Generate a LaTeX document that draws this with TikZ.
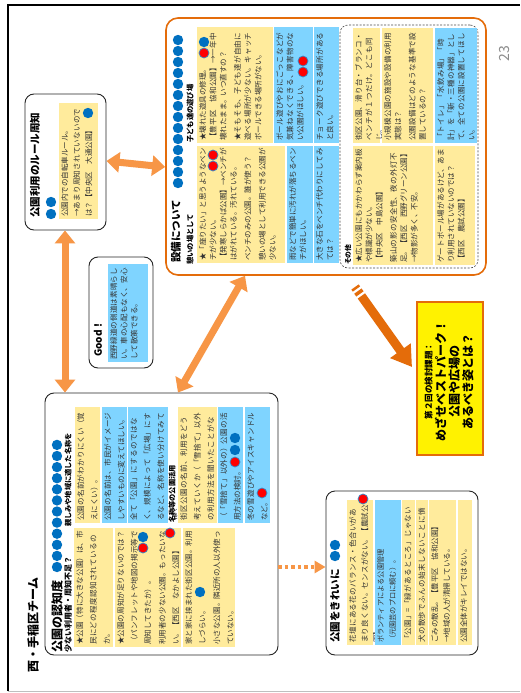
\documentclass[tikz,border=0pt]{standalone}
\usepackage{fontspec}
\setmainfont{Noto Sans CJK JP}
\usetikzlibrary{arrows.meta,calc}
\XeTeXlinebreaklocale "ja"
\XeTeXlinebreakskip=0pt plus 1pt
\definecolor{cyel}{HTML}{FFEB9C}
\definecolor{cblu}{HTML}{7FD4FF}
\definecolor{dblue}{HTML}{0070C0}
\definecolor{dred}{HTML}{FF0000}
\definecolor{lor}{HTML}{F79646}
\definecolor{dor}{HTML}{E46C0A}
\tikzset{
 box/.style={draw=black!85, line width=0.9pt, rounded corners=9pt, fill=white, inner sep=0pt},
 obox/.style={draw=dor, line width=1.6pt, rounded corners=12pt, fill=white, inner sep=0pt},
 dbox/.style={draw=black!70, line width=0.6pt, dash pattern=on 2pt off 1.5pt, rounded corners=8pt, inner sep=0pt},
 ctext/.style={rotate=90, anchor=north west, align=left, inner sep=2pt, text=black!80, font=\fontsize{7.5}{10.3}\selectfont},
 ltext/.style={font=\fontsize{7.5}{13.5}\selectfont},
 rtext/.style={font=\fontsize{7.5}{12}\selectfont},
 ttl/.style={rotate=90, anchor=west, inner sep=0pt, font=\bfseries\fontsize{#1}{#1}\selectfont},
 ttl/.default=10,
 larrow/.style={draw=lor, line width=7pt, {Triangle[width=20pt,length=13pt]}-{Triangle[width=20pt,length=13pt]}},
 darrow/.style={draw=lor, line width=3.5pt, dash pattern=on 3.5pt off 3pt, -{Triangle[width=12pt,length=11pt]}},
 barrow/.style={draw=dor, line width=9pt, -{Triangle[width=24pt,length=20pt]}},
 bstripe/.style={draw=dor, line width=9pt}
}
\newcommand\cellbox[8][]{%
  \fill[#3] (#4,#6) rectangle (#5,#7);
  \pgfmathsetmacro\cw{#7-#6-4}%
  \node[ctext,#1,text width=\cw pt] (#2) at (#4,#7) {#8};%
}
\newcommand\bd[2]{\fill[dblue] (#1,#2) circle (5.2pt);}
\newcommand\rd[2]{\filldraw[fill=dred, draw=dblue!80, line width=0.7pt] (#1,#2) circle (5pt);}
\begin{document}
\begin{tikzpicture}[x=1pt,y=-1pt]
\useasboundingbox (0,0) rectangle (520,693);
\fill[white] (0,0) rectangle (520,693);
% page frame
\draw[line width=2pt] (8,691) -- (8,5) -- (520,5);
\draw[black!25, line width=1pt] (8,691) -- (520,691);
\node[rotate=90, inner sep=0pt, text=black!45, font=\fontsize{14}{14}\selectfont] (pnum) at (505,54) {23};
\node[ttl=12] (team) at (33,673) {西・手稲区チーム};

% ---------- boxes ----------
\node[box, minimum width=233pt, minimum height=262pt] (leftbox) at (161.5,524) {};
\node[box, minimum width=81pt, minimum height=136pt] (smallbox) at (65.5,162) {};
\node[box, minimum width=64pt, minimum height=111pt] (goodbox) at (121,312.5) {};
\node[obox, minimum width=320pt, minimum height=257pt] (orangebox) at (326,146.5) {};
\node[box, minimum width=152pt, minimum height=164pt] (rightbox) at (402,573) {};
\node[draw=dor, fill=yellow, line width=1.2pt, minimum width=66pt, minimum height=153pt, inner sep=0pt] (taskbox) at (450,378.5) {};

% ---------- left box ----------
\node[ttl=12] (t1) at (57,653) {公園の認知度};
\foreach \k in {0,...,11} {\fill[dblue] (57,{567-11.1*\k}) circle (5.2pt);}
\node[ttl=8] (s1) at (68,653) {少ない利用者・周知不足？};
\node[ttl=7.2] (s2) at (68,527) {親しみや地域に適した名称を};
\cellbox[ltext]{c1}{cyel}{74}{113}{528}{647}{★公園（特に大きな公園）は、市民にどの程度認知されているのか。}
\cellbox[ltext]{c2}{cyel}{115}{181}{528}{647}{★公園の周知が足りないのでは？（パンフレットや地図の掲示等で周知してきたか）。\\[1pt]利用者の少ない公園。もったいない。【西区　なかよし公園】}
\cellbox[ltext]{c3}{cyel}{183}{235}{528}{647}{家と家に挟まれた街区公園。利用しづらい。\\[1pt]小さな公園。隣近所の人以外使っていない。}
\cellbox[ltext]{c4}{cyel}{75}{100}{407}{523}{公園の名前がわかりにくい（覚えにくい）。}
\cellbox[ltext]{c5}{cblu}{102}{127}{407}{523}{公園の名前は、市民がイメージしやすいものに変えてほしい。}
\cellbox[ltext]{c6}{cblu}{128}{168}{407}{523}{全て「公園」にするのではなく、規模によって「広場」にするなど、名称を使い分けてみては？}
\node[ttl=7.2] (s3) at (172,523) {名称等の公園活用};
\cellbox[ltext]{c7}{cyel}{178}{217}{407}{523}{街区公園の名前、利用をどう考えていくか（「雪捨て」以外の利用方法を聞いたことがない）。}
\cellbox[ltext]{c8}{cblu}{218}{243}{407}{523}{（「雪捨て」以外の）公園の活用方法の検討。}
\cellbox[ltext]{c9}{cblu}{245}{270}{407}{523}{冬の雪遊びやアイスキャンドルなど。}
\bd{143}{537}\rd{143}{548}\rd{170}{533}\bd{200}{592}
\bd{235}{438}\bd{235}{450}\rd{235}{462}\rd{262}{493}

% ---------- small box ----------
\node[ttl=10.5] (t2) at (35,218) {公園利用のルール周知};
\bd{51}{202}\bd{51}{214}
\cellbox[rtext]{sc1}{cyel}{59}{98}{103}{219}{公園内での自転車ルール。\\→あまり周知されていないのでは？【中央区　大通公園】}
\bd{88}{113}

% ---------- good box ----------
\node[ttl=10] (t3) at (98,357) {Good！};
\cellbox{g1}{cblu}{108}{148}{264}{362}{西野緑道の側道は素晴らしい。車の心配もなく、安心して散策できる。}

% ---------- orange box ----------
\node[ttl=10.5] (t4) at (176,263) {設備について};
\foreach \k in {0,...,13} {\fill[dblue] (178,{183-11*\k}) circle (5.2pt);}
\node[ttl=7.3] (s4) at (190,265) {憩いの場として};
\node[ttl=7.3] (s5) at (190,143) {子ども達の遊び場};
\cellbox{oa}{cyel}{197}{285}{146}{263}{★「座りたい」と思うようなベンチが少ない。\\【発寒しらかば公園】→ベンチがはがれている。汚れている。\\[4pt]ベンチのみの公園。誰が使う？\\[4pt]憩いの場として利用できる公園が少ない。}
\cellbox{ob}{cblu}{287}{313}{146}{263}{雨などで簡単に汚れが落ちるベンチがほしい。}
\cellbox{oc}{cblu}{314}{339}{146}{263}{大きな石をベンチ代わりにしてみては？}
\cellbox{pa}{cyel}{197}{273}{27}{143}{★壊れた遊具の修理。\\【豊平区　協和公園】→一年中壊れたまま。いつ直すの？\\[4pt]★そもそも、子ども達が自由に遊べる場所が少ない。キャッチボールできる場所がない。}
\cellbox{pb}{cblu}{274}{313}{27}{143}{ボール遊びやおにごっこなどが気兼ねなくできる、障害物のない公園がほしい。}
\cellbox{pc}{cblu}{314}{339}{27}{143}{チョーク遊びできる場所があると良い。}
\rd{213}{155}\rd{213}{166}\bd{204}{42}\rd{204}{53}\rd{303}{61}\rd{303}{72}
% dashed "other"
\node[dbox, minimum width=138pt, minimum height=243pt] (dashbox) at (409,146.5) {};
\node[ttl=6.8] (s6) at (348,265) {その他};
\cellbox{da}{cyel}{353}{433}{146}{265}{★広い公園にもかかわらず案内板や標識が少ない。\\【中央区　中島公園】\\[4pt]築山の影の安全性、夜の外灯不足。【西区　西野グリーン公園】\\→物影が多く、不安。}
\cellbox{db}{cyel}{435}{475}{146}{265}{ゲートボール場があるけど、あまり利用されていないのでは？\\【西区　農試公園】}
\cellbox{dc}{cyel}{353}{380}{28}{143}{街区公園、滑り台・ブランコ・ベンチが１つだけ。どこも同じ。}
\cellbox{dd}{cyel}{382}{433}{28}{143}{小規模公園の施設や設備の利用実態は？\\[4pt]公園設備はどのような基準で設置しているの？}
\cellbox{de}{cblu}{435}{477}{28}{143}{「トイレ」「水飲み場」「時計」を「新・三種の神器」として、全ての公園に設置してほしい。}

% ---------- right box ----------
\node[ttl=10.5] (t5) at (335,643) {公園をきれいに};
\bd{335}{545}\bd{335}{556}
\cellbox[rtext]{e1}{cyel}{347}{373}{500}{645}{花壇にある花のバランス・色合いがあまり良くない。センスがない。【農試公園】}
\cellbox[font=\fontsize{7.2}{12}\selectfont]{e2}{cblu}{375}{401}{500}{645}{ボランティアによる公園管理\\（元園芸のプロに頼む）。}
\cellbox[rtext]{e3}{cyel}{402}{415}{500}{645}{「公園」=「緑があるところ」じゃないの？}
\cellbox[rtext]{e4}{cyel}{416}{428}{500}{645}{犬の散歩でふんの始末しないことに憤慨。}
\cellbox[rtext]{e5}{cyel}{429}{456}{500}{645}{ごみの散乱。【豊平区　協和公園】\\→地域の人が清掃している。}
\cellbox[rtext]{e6}{cyel}{458}{472}{500}{645}{公園全体がキレイではない。}
\rd{363}{499}

% ---------- task box text ----------
\node[rotate=90, align=center, inner sep=0pt, font=\bfseries\fontsize{12}{13.5}\selectfont] (tasktxt) at (449,381) {{\fontsize{8.5}{13.5}\selectfont 第２回の検討課題：}\\めざせベストパーク！\\公園や広場の\\あるべき姿とは？};

% ---------- connectors ----------
\coordinate (ya) at (0,161);
\coordinate (yb) at (0,167);
\coordinate (xa) at (65,0);
\coordinate (xb) at (178,0);
\coordinate (xc) at (245,0);
\coordinate (yc) at (0,567);
\draw[larrow] (smallbox.east |- ya) -- (orangebox.west |- yb);
\draw[larrow] (smallbox.south -| xa) -- (leftbox.north -| xa);
\draw[larrow] (leftbox.north -| xb) -- (orangebox.south -| xc);
\draw[darrow] (leftbox.east |- yc) -- (rightbox.west |- yc);
\coordinate (bt) at (355,287);
\coordinate (bh) at (412,367);
\draw[bstripe] (bt) -- ($(bt)!2.5pt!(bh)$);
\draw[bstripe] ($(bt)!5pt!(bh)$) -- ($(bt)!8.5pt!(bh)$);
\draw[barrow] ($(bt)!11pt!(bh)$) -- (bh);
\end{tikzpicture}
\end{document}
